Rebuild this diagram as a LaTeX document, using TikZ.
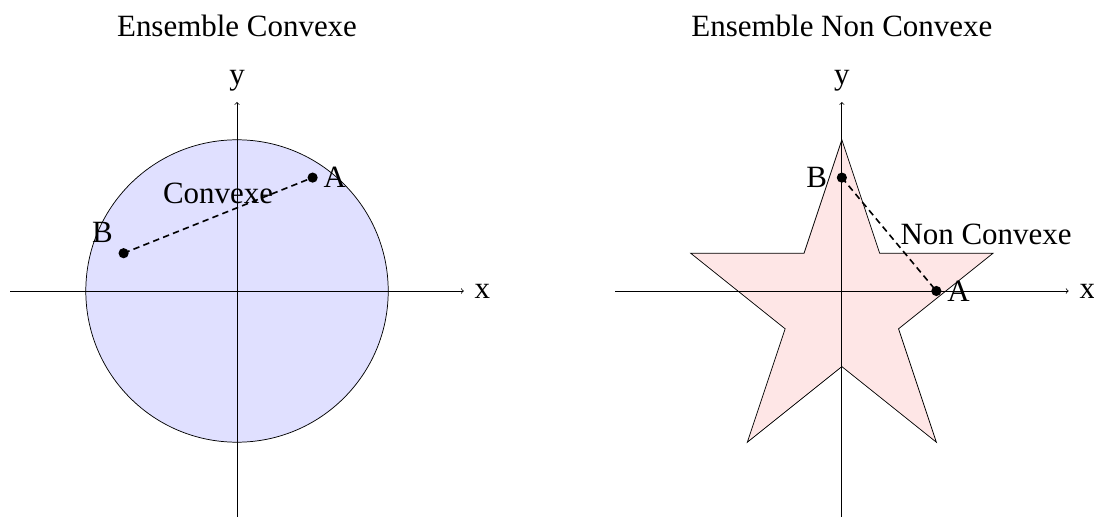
\documentclass[tikz,border=0pt]{standalone}
\usepackage{fontspec}
\setmainfont{Liberation Serif}
\definecolor{cvx}{RGB}{224,224,255}
\definecolor{ncvx}{RGB}{254,230,230}
\begin{document}
\begin{tikzpicture}[
  every node/.style={font=\fontsize{23.3}{27}\selectfont, inner sep=8pt},
  axis/.style={->, line width=0.55pt},
  link/.style={line width=1.2pt, dash pattern=on 4.8pt off 3.2pt},
  outline/.style={draw=black, line width=0.55pt},
]
\useasboundingbox (-6.27,-5.952) rectangle (22.67,7.698);
% ---------- left: convex set ----------
\begin{scope}
  \node (t1) at (0,7) {Ensemble Convexe};
  \draw[outline, fill=cvx] (0,0) circle (4);
  \coordinate (xl0) at (-6,0);
  \coordinate (xl1) at (6,0);
  \coordinate (yl0) at (0,-6);
  \coordinate (yl1) at (0,5);
  \draw[axis] (xl0) -- (xl1);
  \draw[axis] (yl0) -- (yl1);
  \node[right] (xlab1) at (xl1) {x};
  \node[above] (ylab1) at (yl1) {y};
  \coordinate (A1) at (2,3);
  \coordinate (B1) at (-3,1);
  \draw[link] (B1) -- (A1) node[midway, above] (c1) {Convexe};
  \fill (A1) circle (0.135);
  \fill (B1) circle (0.135);
  \node[right] (lA1) at (A1) {A};
  \node[above left] (lB1) at (B1) {B};
\end{scope}
% ---------- right: non-convex set ----------
\begin{scope}[xshift=16cm]
  \node (t2) at (0,7) {Ensemble Non Convexe};
  \draw[outline, fill=ncvx] (0,4) -- (1,1) -- (4,1) -- (1.5,-1) -- (2.5,-4) -- (0,-2)
        -- (-2.5,-4) -- (-1.5,-1) -- (-4,1) -- (-1,1) -- cycle;
  \coordinate (xr0) at (-6,0);
  \coordinate (xr1) at (6,0);
  \coordinate (yr0) at (0,-6);
  \coordinate (yr1) at (0,5);
  \draw[axis] (xr0) -- (xr1);
  \draw[axis] (yr0) -- (yr1);
  \node[right] (xlab2) at (xr1) {x};
  \node[above] (ylab2) at (yr1) {y};
  \coordinate (A2) at (2.5,0);
  \coordinate (B2) at (0,3);
  \draw[link] (B2) -- (A2) node[midway, right] (c2) {Non Convexe};
  \fill (A2) circle (0.135);
  \fill (B2) circle (0.135);
  \node[right] (lA2) at (A2) {A};
  \node[left, xshift=-3pt] (lB2) at (B2) {B};
\end{scope}
\end{tikzpicture}
\end{document}
